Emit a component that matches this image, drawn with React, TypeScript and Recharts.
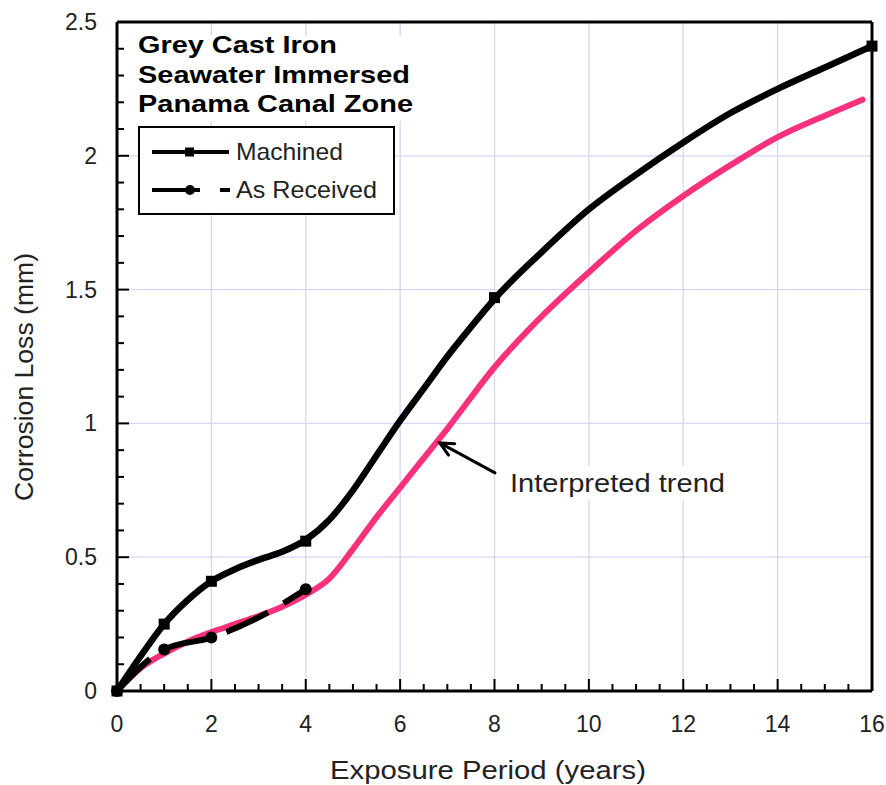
import {
  ComposedChart,
  Line,
  Scatter,
  XAxis,
  YAxis,
  CartesianGrid,
  ReferenceLine,
} from "recharts";

const FONT = "'Liberation Sans', Arial, Helvetica, sans-serif";
const PINK = "#f7317c";
const GRID = "#d6d6f7";
const TEXT = "#222";

// Machined: smooth curve as drawn in the figure
const machinedYears = [0, 0.5, 1, 1.5, 2, 2.5, 3, 3.5, 4, 4.5, 5, 5.5, 6, 6.5, 7, 7.5, 8, 9, 10, 11, 12, 13, 14, 15, 16];
const machinedLoss = [0, 0.13, 0.25, 0.34, 0.41, 0.455, 0.49, 0.52, 0.565, 0.64, 0.75, 0.88, 1.01, 1.13, 1.25, 1.36, 1.465, 1.64, 1.8, 1.93, 2.05, 2.16, 2.25, 2.33, 2.41];
// Machined: measured points (square markers)
const machinedPtYears = [0, 1, 2, 4, 8, 16];
const machinedPtLoss = [0, 0.25, 0.41, 0.56, 1.47, 2.41];

// As received: dashed curve + circle markers
const receivedYears = [0, 1, 2, 3, 4];
const receivedLoss = [0, 0.155, 0.2, 0.275, 0.38];
const receivedPtYears = [0, 1, 2, 4];
const receivedPtLoss = [0, 0.155, 0.2, 0.38];

// Interpreted trend (pink)
const trendYears = [0, 0.5, 1, 1.5, 2, 2.5, 3, 3.5, 4, 4.5, 5, 5.5, 6, 6.5, 7, 8, 9, 10, 11, 12, 13, 14, 15, 15.8];
const trendLoss = [0, 0.085, 0.14, 0.185, 0.22, 0.25, 0.28, 0.315, 0.36, 0.42, 0.53, 0.65, 0.76, 0.87, 0.98, 1.21, 1.4, 1.565, 1.72, 1.85, 1.965, 2.07, 2.15, 2.21];

// axes
const xMajor = [0, 2, 4, 6, 8, 10, 12, 14, 16];
const yMajor = [0, 0.5, 1, 1.5, 2, 2.5];
const xGrid = [2, 4, 6, 8, 10, 12, 14];
const yGrid = [0.5, 1, 1.5, 2];
const xTicks = Array.from({ length: 33 }, (_, i) => i * 0.5);
const yTicks = Array.from({ length: 26 }, (_, i) => i / 10);

const toPts = (xs: number[], ys: number[]) => xs.map((x, i) => ({ x, y: ys[i] }));

const machinedCurve = toPts(machinedYears, machinedLoss);
const machinedPts = toPts(machinedPtYears, machinedPtLoss);
const receivedCurve = toPts(receivedYears, receivedLoss);
const receivedPts = toPts(receivedPtYears, receivedPtLoss);
const trendCurve = toPts(trendYears, trendLoss);

// layout
const W = 886;
const H = 785;
const LEFT_W = 117;
const RIGHT_W = 14;
const TOP_H = 22;
const BOTTOM_H = 94;
const PLOT_L = LEFT_W;
const PLOT_R = W - RIGHT_W;
const PLOT_T = TOP_H;
const PLOT_B = H - BOTTOM_H;

const isMajorX = (v: number) => xMajor.includes(v);
const isMajorY = (v: number) => yMajor.includes(Math.round(v * 10) / 10);
const MAJOR = 12;
const MINOR = 7;

const bottomTick = (props: any) => {
  const x = Number(props.x);
  const v = props.payload.value;
  const major = isMajorX(v);
  return (
    <g>
      <path d={`M${x},${PLOT_B}V${PLOT_B - (major ? MAJOR : MINOR)}`} stroke="#000" strokeWidth={2} fill="none" />
      {major && (
        <text x={x} y={PLOT_B + 41} textAnchor="middle" fontSize={23} fill={TEXT} stroke="none" fontFamily={FONT}>
          {v}
        </text>
      )}
    </g>
  );
};

const topTick = (props: any) => {
  const x = Number(props.x);
  const major = isMajorX(props.payload.value);
  return <path d={`M${x},${PLOT_T}V${PLOT_T + (major ? MAJOR : MINOR)}`} stroke="#000" strokeWidth={2} fill="none" />;
};

const leftTick = (props: any) => {
  const y = Number(props.y);
  const v = Math.round(props.payload.value * 10) / 10;
  const major = isMajorY(v);
  return (
    <g>
      <path d={`M${PLOT_L},${y}H${PLOT_L + (major ? MAJOR : MINOR)}`} stroke="#000" strokeWidth={2} fill="none" />
      {major && (
        <text x={PLOT_L - 20} y={y + 8} textAnchor="end" fontSize={23} fill={TEXT} stroke="none" fontFamily={FONT}>
          {v}
        </text>
      )}
    </g>
  );
};

const rightTick = (props: any) => {
  const y = Number(props.y);
  const major = isMajorY(props.payload.value);
  return <path d={`M${PLOT_R},${y}H${PLOT_R - (major ? MAJOR : MINOR)}`} stroke="#000" strokeWidth={2} fill="none" />;
};

const Square = (p: any) => <rect x={p.cx - 5.5} y={p.cy - 5.5} width={11} height={11} fill="#000" />;
const Dot = (p: any) => <circle cx={p.cx} cy={p.cy} r={6} fill="#000" />;

function Arrow(p: any) {
  const { x1, y1, x2, y2 } = p;
  const a = Math.atan2(y2 - y1, x2 - x1);
  const L = 15;
  const s = 0.45;
  return (
    <g stroke="#000" strokeWidth={3} fill="none" strokeLinecap="round">
      <line x1={x1} y1={y1} x2={x2} y2={y2} />
      <polyline
        points={`${x2 - L * Math.cos(a - s)},${y2 - L * Math.sin(a - s)} ${x2},${y2} ${x2 - L * Math.cos(a + s)},${y2 - L * Math.sin(a + s)}`}
      />
    </g>
  );
}

const frame = { stroke: "#000", strokeWidth: 3 };

export default function App() {
  return (
    <div style={{ position: "absolute", left: 0, top: 0, width: W, height: H, background: "#fff" }}>
      <ComposedChart width={W} height={H} margin={{ top: 0, right: 0, bottom: 0, left: 0 }}>
        <CartesianGrid
          xAxisId="b"
          yAxisId="l"
          verticalValues={xGrid}
          horizontalValues={yGrid}
          stroke={GRID}
          strokeWidth={1.3}
        />
        <XAxis
          xAxisId="b"
          type="number"
          dataKey="x"
          domain={[0, 16]}
          ticks={xTicks}
          interval={0}
          height={BOTTOM_H}
          tickLine={false}
          tick={bottomTick}
          axisLine={frame}
        />
        <XAxis
          xAxisId="t"
          orientation="top"
          type="number"
          dataKey="x"
          domain={[0, 16]}
          ticks={xTicks}
          interval={0}
          height={TOP_H}
          tickLine={false}
          tick={topTick}
          axisLine={frame}
        />
        <YAxis
          yAxisId="l"
          type="number"
          dataKey="y"
          domain={[0, 2.5]}
          ticks={yTicks}
          interval={0}
          width={LEFT_W}
          tickLine={false}
          tick={leftTick}
          axisLine={frame}
        />
        <YAxis
          yAxisId="r"
          orientation="right"
          type="number"
          dataKey="y"
          domain={[0, 2.5]}
          ticks={yTicks}
          interval={0}
          width={RIGHT_W}
          tickLine={false}
          tick={rightTick}
          axisLine={frame}
        />

        <Line
          xAxisId="b"
          yAxisId="l"
          data={trendCurve}
          dataKey="y"
          type="monotone"
          stroke={PINK}
          strokeWidth={6}
          strokeLinecap="round"
          dot={false}
          isAnimationActive={false}
        />
        <Line
          xAxisId="b"
          yAxisId="l"
          data={receivedCurve}
          dataKey="y"
          type="monotone"
          stroke="#000"
          strokeWidth={6}
          strokeDasharray="46 18"
          dot={false}
          isAnimationActive={false}
        />
        <Line
          xAxisId="b"
          yAxisId="l"
          data={machinedCurve}
          dataKey="y"
          type="monotone"
          stroke="#000"
          strokeWidth={6.5}
          dot={false}
          isAnimationActive={false}
        />
        <Scatter xAxisId="b" yAxisId="l" data={receivedPts} shape={Dot} isAnimationActive={false} />
        <Scatter xAxisId="b" yAxisId="l" data={machinedPts} shape={Square} isAnimationActive={false} />

        <ReferenceLine
          xAxisId="b"
          yAxisId="l"
          segment={[
            { x: 8.01, y: 0.815 },
            { x: 6.84, y: 0.927 },
          ]}
          shape={Arrow}
        />
      </ComposedChart>

      <svg
        width={W}
        height={H}
        style={{ position: "absolute", left: 0, top: 0, pointerEvents: "none" }}
        fontFamily={FONT}
      >
        {/* title block */}
        <rect x={131} y={36} width={292} height={85} fill="#fff" />
        <g fontWeight="bold" fontSize={24} fill="#000">
          <text x={138} y={53} textLength={199} lengthAdjust="spacingAndGlyphs">
            Grey Cast Iron
          </text>
          <text x={138} y={83} textLength={272} lengthAdjust="spacingAndGlyphs">
            Seawater Immersed
          </text>
          <text x={138} y={112} textLength={275} lengthAdjust="spacingAndGlyphs">
            Panama Canal Zone
          </text>
        </g>

        {/* legend */}
        <rect x={139} y={127} width={255} height={87} fill="#fff" stroke="#000" strokeWidth={2} />
        <line x1={152} y1={152} x2={229} y2={152} stroke="#000" strokeWidth={4} />
        <rect x={185} y={147.5} width={9} height={9} fill="#000" />
        <text x={236} y={160} fontSize={24} fill={TEXT} textLength={107} lengthAdjust="spacingAndGlyphs">
          Machined
        </text>
        <line x1={152} y1={190} x2={200} y2={190} stroke="#000" strokeWidth={4} />
        <circle cx={190} cy={190} r={5} fill="#000" />
        <line x1={220} y1={190} x2={230} y2={190} stroke="#000" strokeWidth={4} />
        <text x={236} y={198} fontSize={24} fill={TEXT} textLength={141} lengthAdjust="spacingAndGlyphs">
          As Received
        </text>

        {/* annotation */}
        <rect x={500} y={466} width={232} height={34} fill="#fff" />
        <text x={510} y={492} fontSize={26} fill={TEXT} textLength={215} lengthAdjust="spacingAndGlyphs">
          Interpreted trend
        </text>

        {/* axis titles */}
        <text x={488} y={779} textAnchor="middle" fontSize={26} fill={TEXT} textLength={316} lengthAdjust="spacingAndGlyphs">
          Exposure Period (years)
        </text>
        <text
          transform="translate(33,377) rotate(-90)"
          textAnchor="middle"
          fontSize={25}
          fill={TEXT}
          textLength={248}
          lengthAdjust="spacingAndGlyphs"
        >
          Corrosion Loss (mm)
        </text>
      </svg>
    </div>
  );
}
